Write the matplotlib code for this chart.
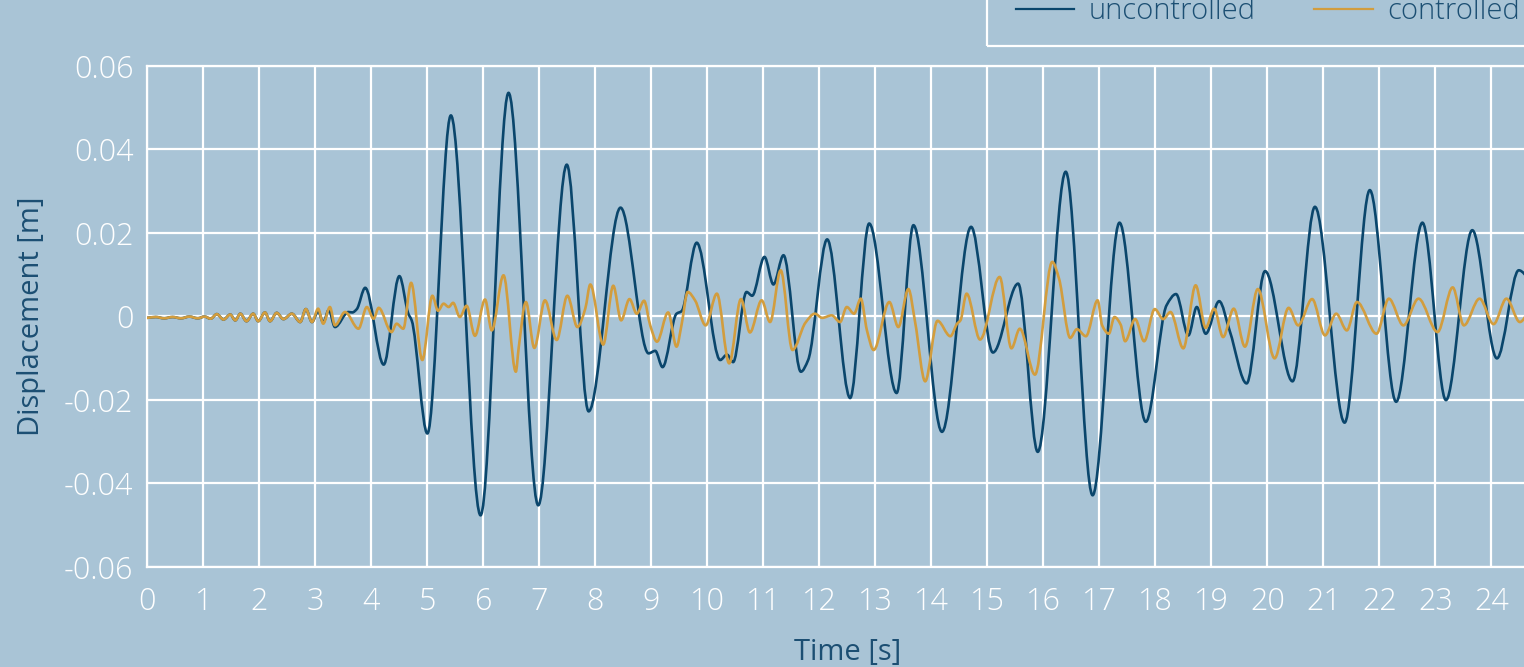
import matplotlib
matplotlib.use("Agg")
import matplotlib.pyplot as plt
import numpy as np
from matplotlib.lines import Line2D
from matplotlib.patches import PathPatch, Rectangle
from matplotlib.path import Path

# time [s] / displacement [m] at turning points of each response
t_uncontrolled = [
    0.00, 0.15, 0.30, 0.45, 0.60, 0.75, 0.90, 1.02, 1.13, 1.24, 1.36, 1.48,
    1.57, 1.66, 1.77, 1.89, 1.98, 2.10, 2.19, 2.31, 2.43, 2.58, 2.73, 2.83,
    2.94, 3.05, 3.14, 3.24, 3.35, 3.59, 3.66, 3.74, 3.89, 4.22, 4.50, 4.66,
    4.72, 5.00, 5.42, 5.95, 6.45, 6.98, 7.49, 7.88, 8.45, 8.95, 9.07, 9.20,
    9.45, 9.54, 9.81, 10.23, 10.35, 10.46, 10.70, 10.80, 11.02, 11.18, 11.36,
    11.67, 11.80, 12.14, 12.55, 12.89, 13.38, 13.68, 14.19, 14.71, 15.10,
    15.55, 15.90, 16.40, 16.88, 17.36, 17.83, 18.20, 18.37, 18.59, 18.74,
    18.90, 19.14, 19.33, 19.63, 19.96, 20.45, 20.85, 21.38, 21.83, 22.30,
    22.77, 23.19, 23.66, 24.10, 24.49, 24.70,
]
d_uncontrolled = [
    -0.0004, -0.0002, -0.0005, -0.0002, -0.0005, -0.0001, -0.0005, -0.0001,
    -0.0006, 0.0005, -0.0008, 0.0004, -0.0010, 0.0006, -0.0012, 0.0006,
    -0.0012, 0.0009, -0.0012, 0.0008, -0.0007, 0.0006, -0.0014, 0.0017,
    -0.0014, 0.0012, -0.0015, 0.0015, -0.0026, 0.0010, 0.0009, 0.0017,
    0.0068, -0.0116, 0.0096, 0.0006, -0.0010, -0.0281, 0.0481, -0.0477,
    0.0535, -0.0453, 0.0363, -0.0228, 0.0260, -0.0089, -0.0083, -0.0122,
    0.0006, 0.0012, 0.0176, -0.0105, -0.0092, -0.0110, 0.0058, 0.0049,
    0.0142, 0.0076, 0.0146, -0.0133, -0.0105, 0.0184, -0.0196, 0.0222,
    -0.0184, 0.0218, -0.0277, 0.0214, -0.0087, 0.0078, -0.0325, 0.0346,
    -0.0429, 0.0224, -0.0253, 0.0026, 0.0053, -0.0046, 0.0022, -0.0042,
    0.0036, -0.0036, -0.0161, 0.0108, -0.0156, 0.0262, -0.0255, 0.0302,
    -0.0205, 0.0224, -0.0201, 0.0206, -0.0101, 0.0110, 0.0085,
]

t_controlled = [
    0.00, 0.15, 0.30, 0.45, 0.60, 0.75, 0.90, 1.02, 1.13, 1.24, 1.36, 1.48,
    1.57, 1.66, 1.77, 1.89, 1.98, 2.10, 2.19, 2.31, 2.43, 2.58, 2.73, 2.83,
    2.94, 3.05, 3.14, 3.26, 3.35, 3.53, 3.77, 3.92, 4.04, 4.13, 4.36, 4.45,
    4.57, 4.71, 4.91, 5.09, 5.19, 5.29, 5.38, 5.46, 5.58, 5.70, 5.85, 6.03,
    6.15, 6.36, 6.58, 6.63, 6.76, 6.91, 7.10, 7.31, 7.50, 7.68, 7.82, 7.91,
    8.14, 8.32, 8.46, 8.61, 8.74, 8.87, 8.98, 9.10, 9.30, 9.45, 9.54, 9.65,
    9.78, 9.97, 10.17, 10.39, 10.60, 10.76, 10.97, 11.12, 11.31, 11.52,
    11.75, 11.92, 12.05, 12.22, 12.37, 12.49, 12.62, 12.74, 12.85, 12.97,
    13.25, 13.41, 13.59, 13.71, 13.89, 14.11, 14.34, 14.46, 14.52, 14.63,
    14.87, 15.22, 15.43, 15.58, 15.85, 16.16, 16.28, 16.48, 16.60, 16.76,
    16.97, 17.05, 17.17, 17.27, 17.38, 17.46, 17.64, 17.80, 17.99, 18.14,
    18.27, 18.50, 18.72, 18.90, 19.05, 19.21, 19.40, 19.60, 19.83, 20.13,
    20.38, 20.55, 20.80, 21.03, 21.23, 21.42, 21.60, 21.95, 22.17, 22.43,
    22.70, 23.04, 23.31, 23.51, 23.79, 24.04, 24.27, 24.51, 24.70,
]
d_controlled = [
    -0.0004, -0.0002, -0.0005, -0.0002, -0.0005, -0.0001, -0.0005, -0.0001,
    -0.0006, 0.0005, -0.0008, 0.0004, -0.0010, 0.0006, -0.0012, 0.0006,
    -0.0012, 0.0009, -0.0012, 0.0008, -0.0007, 0.0006, -0.0014, 0.0017,
    -0.0014, 0.0018, -0.0018, 0.0022, -0.0022, 0.0010, -0.0030, 0.0022,
    -0.0006, 0.0020, -0.0038, -0.0018, -0.0030, 0.0080, -0.0105, 0.0049,
    0.0013, 0.0030, 0.0022, 0.0032, -0.0002, 0.0025, -0.0047, 0.0040,
    -0.0034, 0.0098, -0.0133, -0.0077, 0.0034, -0.0076, 0.0038, -0.0057,
    0.0049, -0.0026, 0.0018, 0.0076, -0.0068, 0.0073, -0.0010, 0.0041,
    0.0006, 0.0037, -0.0022, -0.0061, 0.0009, -0.0073, -0.0020, 0.0058,
    0.0038, -0.0022, 0.0054, -0.0113, 0.0041, -0.0039, 0.0038, -0.0014,
    0.0110, -0.0081, -0.0016, 0.0006, -0.0004, 0.0002, -0.0014, 0.0022,
    0.0006, 0.0042, -0.0034, -0.0081, 0.0034, -0.0026, 0.0065, -0.0014,
    -0.0156, -0.0011, -0.0048, -0.0018, -0.0010, 0.0054, -0.0056, 0.0094,
    -0.0077, -0.0030, -0.0140, 0.0130, 0.0090, -0.0052, -0.0031, -0.0048,
    0.0038, -0.0022, -0.0042, -0.0002, -0.0020, -0.0060, -0.0007, -0.0060,
    0.0017, -0.0007, 0.0010, -0.0077, 0.0074, -0.0028, 0.0018, -0.0050,
    0.0018, -0.0073, 0.0065, -0.0101, 0.0020, -0.0022, 0.0041, -0.0046,
    0.0006, -0.0034, 0.0034, -0.0042, 0.0042, -0.0022, 0.0042, -0.0038,
    0.0069, -0.0022, 0.0042, -0.0019, 0.0042, -0.0014, 0.0020,
]

series_labels = ["uncontrolled", "controlled"]
x_ticks = list(range(0, 25))
y_ticks = [-0.06, -0.04, -0.02, 0.0, 0.02, 0.04, 0.06]
y_tick_labels = ["-0.06", "-0.04", "-0.02", "0", "0.02", "0.04", "0.06"]

BG = "#a9c4d6"
DARK = "#0a466c"
GOLD = "#d29d3e"
LABEL = "#1c4f73"


def smooth_path(x, y):
    # monotone cubic (pchip) segments written as bezier curves
    x = np.asarray(x, float)
    y = np.asarray(y, float)
    h = np.diff(x)
    d = np.diff(y) / h
    m = np.zeros_like(y)
    for k in range(1, len(y) - 1):
        if d[k - 1] * d[k] > 0:
            w1 = 2 * h[k] + h[k - 1]
            w2 = h[k] + 2 * h[k - 1]
            m[k] = (w1 + w2) / (w1 / d[k - 1] + w2 / d[k])
    m[0], m[-1] = d[0], d[-1]
    verts = [(x[0], y[0])]
    codes = [Path.MOVETO]
    for k in range(len(h)):
        verts += [(x[k] + h[k] / 3, y[k] + m[k] * h[k] / 3),
                  (x[k + 1] - h[k] / 3, y[k + 1] - m[k + 1] * h[k] / 3),
                  (x[k + 1], y[k + 1])]
        codes += [Path.CURVE4] * 3
    return Path(verts, codes)


plt.rcParams["font.family"] = ["Open Sans", "DejaVu Sans"]
plt.rcParams["font.weight"] = "light"
FS = 21

W, H = 1524, 667
fig = plt.figure(figsize=(W / 100, H / 100), dpi=100, facecolor=BG)
ax = fig.add_axes([0.0967, 0.1504, 0.9186, 0.7511])
ax.set_facecolor(BG)

for t, d, c in [(t_uncontrolled, d_uncontrolled, DARK), (t_controlled, d_controlled, GOLD)]:
    ax.add_patch(PathPatch(smooth_path(t, d), fill=False, edgecolor=c,
                           lw=1.9, joinstyle="round", capstyle="round", zorder=3))

ax.set_xlim(0, 25)
ax.set_ylim(-0.06, 0.06)
ax.set_xticks(x_ticks)
ax.set_yticks(y_ticks)
ax.set_yticklabels(y_tick_labels)
ax.grid(True, color="white", lw=1.6, zorder=1)
ax.set_axisbelow(True)
for s in ax.spines.values():
    s.set_color("white")
    s.set_linewidth(1.6)
ax.tick_params(axis="both", length=0, labelcolor="white", labelsize=22)
ax.tick_params(axis="x", pad=14)
ax.tick_params(axis="y", pad=10)
ax.set_xlabel("Time [s]", fontsize=FS, color=LABEL, labelpad=14)
ax.set_ylabel("Displacement [m]", fontsize=FS, color=LABEL, labelpad=13)

# legend box: white frame running off the top and right edges
fig.add_artist(Rectangle((987 / W, (H - 46) / H), 0.5, 0.5,
                         transform=fig.transFigure, fill=False,
                         edgecolor="white", lw=1.6))
handles = [Line2D([], [], color=DARK, lw=1.6), Line2D([], [], color=GOLD, lw=1.6)]
leg = fig.legend(handles, series_labels, loc="lower left",
                 bbox_to_anchor=(1016 / W, (H - 26) / H),
                 ncol=2, fontsize=FS, frameon=False,
                 handlelength=2.0, handletextpad=0.5, columnspacing=2.0,
                 borderpad=0, borderaxespad=0)
for txt in leg.get_texts():
    txt.set_color(LABEL)

fig.savefig("out.png", dpi=100, facecolor=BG)
